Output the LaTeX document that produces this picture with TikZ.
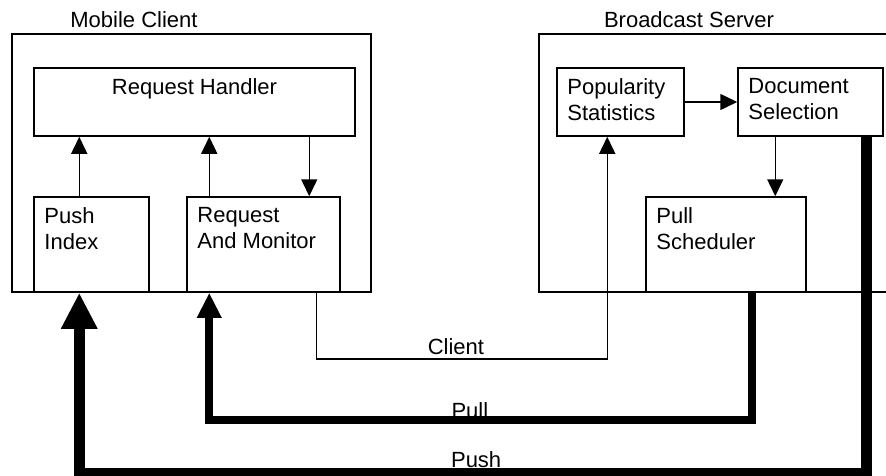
\documentclass[tikz,border=0pt]{standalone}
\usepackage{fontspec}
\setmainfont{Liberation Sans}
\usetikzlibrary{arrows.meta,calc,positioning}

\begin{document}
\begin{tikzpicture}[x=1pt, y=-1pt,
  every node/.style={font=\fontsize{22}{26}\selectfont},
  box/.style={draw, line width=1.5pt, inner sep=0pt},
  boxtext/.style={anchor=north west, align=left, inner sep=0pt, xshift=11pt, yshift=-11pt},
  headtext/.style={anchor=north, inner sep=0pt, yshift=-11pt},
  arr/.style={line width=1.5pt, -{Triangle[length=17pt,width=16pt]}},
  pullarr/.style={line width=8pt, -{Triangle[length=25pt,width=23pt]}},
  pusharr/.style={line width=11pt, -{Triangle[length=36pt,width=34pt]}}]
\useasboundingbox (0,0) rectangle (886,475);

% outer boxes
\node[box, minimum width=359pt, minimum height=258pt] (mc) at (191.5,163) {};
\node[box, minimum width=400pt, minimum height=258pt] (bs) at (739,163) {};
\node (mclabel) at (134,20) {Mobile Client};
\node (bslabel) at (689,20) {Broadcast Server};

% client side
\node[box, minimum width=321pt, minimum height=68pt,
  label={[headtext]north:Request Handler}] (rh) at (194.5,102) {};
\node[box, minimum width=115pt, minimum height=95pt,
  label={[boxtext]north west:{Push\\Index}}] (pi) at (91.5,244.5) {};
\node[box, minimum width=153pt, minimum height=95pt,
  label={[boxtext]north west:{Request\\And Monitor}}] (ram) at (263.5,244.5) {};

% server side
\node[box, minimum width=127pt, minimum height=68pt,
  label={[boxtext]north west:{Popularity\\Statistics}}] (ps) at (620.5,102) {};
\node[box, minimum width=145pt, minimum height=68pt,
  label={[boxtext]north west:{Document\\Selection}}] (ds) at (810.5,102) {};
\node[box, minimum width=160pt, minimum height=95pt,
  label={[boxtext]north west:{Pull\\Scheduler}}] (sched) at (726,244.5) {};

% ports and lanes
\coordinate (pix) at ([xshift=46pt]pi.north west);
\coordinate (ramx) at ([xshift=23pt]ram.north west);
\coordinate (rhx) at ([xshift=123pt]ram.north west);
\coordinate (clx) at ([xshift=130pt]ram.south west);
\coordinate (psx) at ([xshift=51pt]ps.south west);
\coordinate (dsx) at ([xshift=38pt]ds.south west);
\coordinate (dsp) at ([xshift=129.5pt]ds.south west);
\coordinate (schx) at ([xshift=107pt]sched.south west);
\coordinate (clientlane) at (0,359);
\coordinate (pulllane) at (0,420);
\coordinate (pushlane) at (0,473);

\draw[arr] (pix) -- (pix |- rh.south);
\draw[arr] (ramx) -- (ramx |- rh.south);
\draw[arr] (rhx |- rh.south) -- (rhx);
\draw[arr] (ps.east) -- (ds.west);
\draw[arr] (dsx) -- (dsx |- sched.north);

% client link
\draw[arr] (clx) -- (clx |- clientlane)
  -- node[pos=0.48, anchor=base, yshift=5pt] (clientlbl) {Client} (clientlane -| psx) -- (psx);
% pull channel
\draw[pullarr] (schx) -- (schx |- pulllane)
  -- node[pos=0.52, anchor=base, yshift=2pt] (pulllbl) {Pull} (pulllane -| ramx) -- (ramx |- ram.south);
% push channel
\draw[pusharr] (dsp) -- (dsp |- pushlane)
  -- node[pos=0.496, anchor=base, yshift=6pt] (pushlbl) {Push} (pushlane -| pix) -- (pix |- pi.south);
\end{tikzpicture}
\end{document}
